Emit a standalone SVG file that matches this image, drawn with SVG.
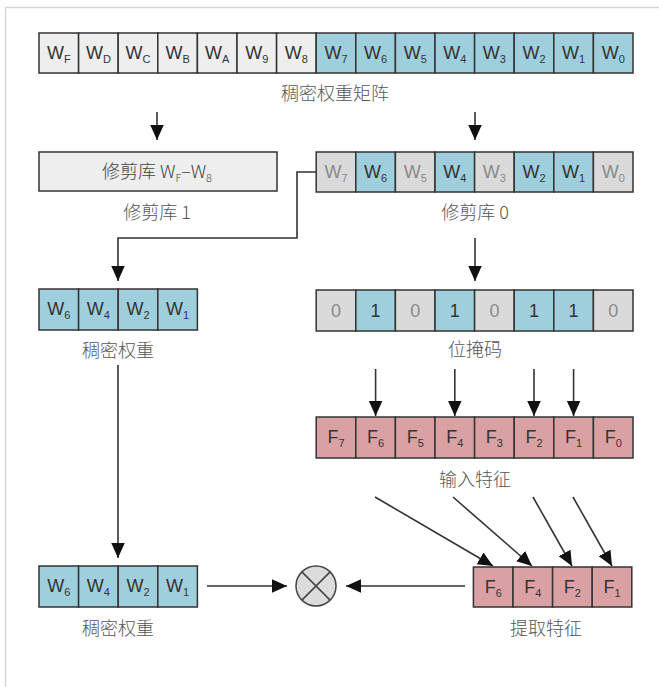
<svg xmlns="http://www.w3.org/2000/svg" width="659" height="687" viewBox="0 0 659 687">
<defs>
<style>
.c{stroke:#333;stroke-width:1.5}
.l{fill:#eeeeee}
.t{fill:#9fcfdc}
.g{fill:#dadada}
.p{fill:#d9a1a4}
.ct{font-family:"Liberation Sans","Noto Sans CJK SC",sans-serif;font-size:18px;fill:#333;text-anchor:middle}
.ctg{fill:#8a8a8a}
.sub{font-size:11px}
.lb{font-family:"Noto Sans CJK SC","Liberation Sans",sans-serif;font-size:18px;font-weight:300;fill:#555;text-anchor:middle}
.ln{stroke:#333;stroke-width:1.6;fill:none}
</style>
<marker id="ahb" viewBox="0 0 10 10" refX="10" refY="5" markerWidth="15" markerHeight="15" markerUnits="userSpaceOnUse" orient="auto">
<path d="M0,0.5 L10,5 L0,9.5 z" fill="#111"/>
</marker>
</defs>
<rect width="659" height="687" fill="#fff"/>
<path d="M5.5,687 V7.5 H659" stroke="#d6d6d6" stroke-width="1.5" fill="none"/>

<g id="dense-matrix">
<rect class="c l" x="39" y="33" width="39.6" height="40"/>
<rect class="c l" x="78.6" y="33" width="39.6" height="40"/>
<rect class="c l" x="118.2" y="33" width="39.6" height="40"/>
<rect class="c l" x="157.8" y="33" width="39.6" height="40"/>
<rect class="c l" x="197.4" y="33" width="39.6" height="40"/>
<rect class="c l" x="237" y="33" width="39.6" height="40"/>
<rect class="c l" x="276.6" y="33" width="39.6" height="40"/>
<rect class="c t" x="316.2" y="33" width="39.6" height="40"/>
<rect class="c t" x="355.8" y="33" width="39.6" height="40"/>
<rect class="c t" x="395.4" y="33" width="39.6" height="40"/>
<rect class="c t" x="435" y="33" width="39.6" height="40"/>
<rect class="c t" x="474.6" y="33" width="39.6" height="40"/>
<rect class="c t" x="514.2" y="33" width="39.6" height="40"/>
<rect class="c t" x="553.8" y="33" width="39.6" height="40"/>
<rect class="c t" x="593.4" y="33" width="39.6" height="40"/>
<text class="ct" x="58.8" y="59">W<tspan class="sub" dy="4">F</tspan></text>
<text class="ct" x="98.4" y="59">W<tspan class="sub" dy="4">D</tspan></text>
<text class="ct" x="138" y="59">W<tspan class="sub" dy="4">C</tspan></text>
<text class="ct" x="177.6" y="59">W<tspan class="sub" dy="4">B</tspan></text>
<text class="ct" x="217.2" y="59">W<tspan class="sub" dy="4">A</tspan></text>
<text class="ct" x="256.8" y="59">W<tspan class="sub" dy="4">9</tspan></text>
<text class="ct" x="296.4" y="59">W<tspan class="sub" dy="4">8</tspan></text>
<text class="ct" x="336" y="59">W<tspan class="sub" dy="4">7</tspan></text>
<text class="ct" x="375.6" y="59">W<tspan class="sub" dy="4">6</tspan></text>
<text class="ct" x="415.2" y="59">W<tspan class="sub" dy="4">5</tspan></text>
<text class="ct" x="454.8" y="59">W<tspan class="sub" dy="4">4</tspan></text>
<text class="ct" x="494.4" y="59">W<tspan class="sub" dy="4">3</tspan></text>
<text class="ct" x="534" y="59">W<tspan class="sub" dy="4">2</tspan></text>
<text class="ct" x="573.6" y="59">W<tspan class="sub" dy="4">1</tspan></text>
<text class="ct" x="613.2" y="59">W<tspan class="sub" dy="4">0</tspan></text>
<text class="lb" x="335" y="100">稠密权重矩阵</text>
</g>

<g id="bank1">
<rect class="c l" x="39" y="152" width="238" height="39"/>
<text class="lb" x="157" y="178" style="fill:#444">修剪库 W<tspan class="sub" dy="4">F</tspan><tspan dy="-4">–W</tspan><tspan class="sub" dy="4">8</tspan></text>
<text class="lb" x="157" y="219">修剪库 1</text>
</g>

<g id="bank0">
<rect class="c g" x="316.2" y="152" width="39.6" height="40"/>
<rect class="c t" x="355.8" y="152" width="39.6" height="40"/>
<rect class="c g" x="395.4" y="152" width="39.6" height="40"/>
<rect class="c t" x="435" y="152" width="39.6" height="40"/>
<rect class="c g" x="474.6" y="152" width="39.6" height="40"/>
<rect class="c t" x="514.2" y="152" width="39.6" height="40"/>
<rect class="c t" x="553.8" y="152" width="39.6" height="40"/>
<rect class="c g" x="593.4" y="152" width="39.6" height="40"/>
<text class="ct ctg" x="336" y="178">W<tspan class="sub" dy="4">7</tspan></text>
<text class="ct" x="375.6" y="178">W<tspan class="sub" dy="4">6</tspan></text>
<text class="ct ctg" x="415.2" y="178">W<tspan class="sub" dy="4">5</tspan></text>
<text class="ct" x="454.8" y="178">W<tspan class="sub" dy="4">4</tspan></text>
<text class="ct ctg" x="494.4" y="178">W<tspan class="sub" dy="4">3</tspan></text>
<text class="ct" x="534" y="178">W<tspan class="sub" dy="4">2</tspan></text>
<text class="ct" x="573.6" y="178">W<tspan class="sub" dy="4">1</tspan></text>
<text class="ct ctg" x="613.2" y="178">W<tspan class="sub" dy="4">0</tspan></text>
<text class="lb" x="475" y="219">修剪库 0</text>
</g>

<g id="dense-weights-1">
<rect class="c t" x="39" y="289" width="39.6" height="41"/>
<rect class="c t" x="78.6" y="289" width="39.6" height="41"/>
<rect class="c t" x="118.2" y="289" width="39.6" height="41"/>
<rect class="c t" x="157.8" y="289" width="39.6" height="41"/>
<text class="ct" x="58.8" y="315">W<tspan class="sub" dy="4">6</tspan></text>
<text class="ct" x="98.4" y="315">W<tspan class="sub" dy="4">4</tspan></text>
<text class="ct" x="138" y="315">W<tspan class="sub" dy="4">2</tspan></text>
<text class="ct" x="177.6" y="315">W<tspan class="sub" dy="4">1</tspan></text>
<text class="lb" x="118" y="357">稠密权重</text>
</g>

<g id="bitmask">
<rect class="c g" x="316.2" y="290" width="39.6" height="41"/>
<rect class="c t" x="355.8" y="290" width="39.6" height="41"/>
<rect class="c g" x="395.4" y="290" width="39.6" height="41"/>
<rect class="c t" x="435" y="290" width="39.6" height="41"/>
<rect class="c g" x="474.6" y="290" width="39.6" height="41"/>
<rect class="c t" x="514.2" y="290" width="39.6" height="41"/>
<rect class="c t" x="553.8" y="290" width="39.6" height="41"/>
<rect class="c g" x="593.4" y="290" width="39.6" height="41"/>
<text class="ct ctg" x="336" y="317">0</text>
<text class="ct" x="375.6" y="317">1</text>
<text class="ct ctg" x="415.2" y="317">0</text>
<text class="ct" x="454.8" y="317">1</text>
<text class="ct ctg" x="494.4" y="317">0</text>
<text class="ct" x="534" y="317">1</text>
<text class="ct" x="573.6" y="317">1</text>
<text class="ct ctg" x="613.2" y="317">0</text>
<text class="lb" x="475" y="356">位掩码</text>
</g>

<g id="input-features">
<rect class="c p" x="316.2" y="417" width="39.6" height="41"/>
<rect class="c p" x="355.8" y="417" width="39.6" height="41"/>
<rect class="c p" x="395.4" y="417" width="39.6" height="41"/>
<rect class="c p" x="435" y="417" width="39.6" height="41"/>
<rect class="c p" x="474.6" y="417" width="39.6" height="41"/>
<rect class="c p" x="514.2" y="417" width="39.6" height="41"/>
<rect class="c p" x="553.8" y="417" width="39.6" height="41"/>
<rect class="c p" x="593.4" y="417" width="39.6" height="41"/>
<text class="ct" x="336" y="443">F<tspan class="sub" dy="4">7</tspan></text>
<text class="ct" x="375.6" y="443">F<tspan class="sub" dy="4">6</tspan></text>
<text class="ct" x="415.2" y="443">F<tspan class="sub" dy="4">5</tspan></text>
<text class="ct" x="454.8" y="443">F<tspan class="sub" dy="4">4</tspan></text>
<text class="ct" x="494.4" y="443">F<tspan class="sub" dy="4">3</tspan></text>
<text class="ct" x="534" y="443">F<tspan class="sub" dy="4">2</tspan></text>
<text class="ct" x="573.6" y="443">F<tspan class="sub" dy="4">1</tspan></text>
<text class="ct" x="613.2" y="443">F<tspan class="sub" dy="4">0</tspan></text>
<text class="lb" x="475" y="486">输入特征</text>
</g>

<g id="extracted-features">
<rect class="c p" x="473.4" y="567" width="39.6" height="40"/>
<rect class="c p" x="513" y="567" width="39.6" height="40"/>
<rect class="c p" x="552.6" y="567" width="39.6" height="40"/>
<rect class="c p" x="592.2" y="567" width="39.6" height="40"/>
<text class="ct" x="493.2" y="593">F<tspan class="sub" dy="4">6</tspan></text>
<text class="ct" x="532.8" y="593">F<tspan class="sub" dy="4">4</tspan></text>
<text class="ct" x="572.4" y="593">F<tspan class="sub" dy="4">2</tspan></text>
<text class="ct" x="612" y="593">F<tspan class="sub" dy="4">1</tspan></text>
<text class="lb" x="546" y="635">提取特征</text>
</g>

<g id="dense-weights-2">
<rect class="c t" x="39" y="566" width="39.6" height="41"/>
<rect class="c t" x="78.6" y="566" width="39.6" height="41"/>
<rect class="c t" x="118.2" y="566" width="39.6" height="41"/>
<rect class="c t" x="157.8" y="566" width="39.6" height="41"/>
<text class="ct" x="58.8" y="592">W<tspan class="sub" dy="4">6</tspan></text>
<text class="ct" x="98.4" y="592">W<tspan class="sub" dy="4">4</tspan></text>
<text class="ct" x="138" y="592">W<tspan class="sub" dy="4">2</tspan></text>
<text class="ct" x="177.6" y="592">W<tspan class="sub" dy="4">1</tspan></text>
<text class="lb" x="118" y="635">稠密权重</text>
</g>

<g id="multiply">
<circle cx="316" cy="586" r="20" fill="#dcdcdc" stroke="#444" stroke-width="1.5"/>
<path d="M301.9,571.9 L330.1,600.1 M330.1,571.9 L301.9,600.1" stroke="#444" stroke-width="1.5"/>
</g>

<g id="connectors">
<line class="ln" x1="157" y1="112" x2="157" y2="140" marker-end="url(#ahb)"/>
<line class="ln" x1="475" y1="112" x2="475" y2="140" marker-end="url(#ahb)"/>
<path class="ln" d="M316,172 H297 V238 H118 V281" marker-end="url(#ahb)"/>
<line class="ln" x1="475" y1="238" x2="475" y2="281" marker-end="url(#ahb)"/>
<line class="ln" x1="375.6" y1="369" x2="375.6" y2="416" marker-end="url(#ahb)"/>
<line class="ln" x1="454.8" y1="369" x2="454.8" y2="416" marker-end="url(#ahb)"/>
<line class="ln" x1="534" y1="369" x2="534" y2="416" marker-end="url(#ahb)"/>
<line class="ln" x1="573.6" y1="369" x2="573.6" y2="416" marker-end="url(#ahb)"/>
<line class="ln" x1="375" y1="497" x2="493" y2="566" marker-end="url(#ahb)"/>
<line class="ln" x1="453" y1="497" x2="532" y2="566" marker-end="url(#ahb)"/>
<line class="ln" x1="533" y1="497" x2="572" y2="566" marker-end="url(#ahb)"/>
<line class="ln" x1="573" y1="497" x2="612" y2="566" marker-end="url(#ahb)"/>
<line class="ln" x1="118" y1="365" x2="118" y2="558" marker-end="url(#ahb)"/>
<line class="ln" x1="207" y1="586" x2="287" y2="586" marker-end="url(#ahb)"/>
<line class="ln" x1="465" y1="586" x2="346" y2="586" marker-end="url(#ahb)"/>
</g>
</svg>
